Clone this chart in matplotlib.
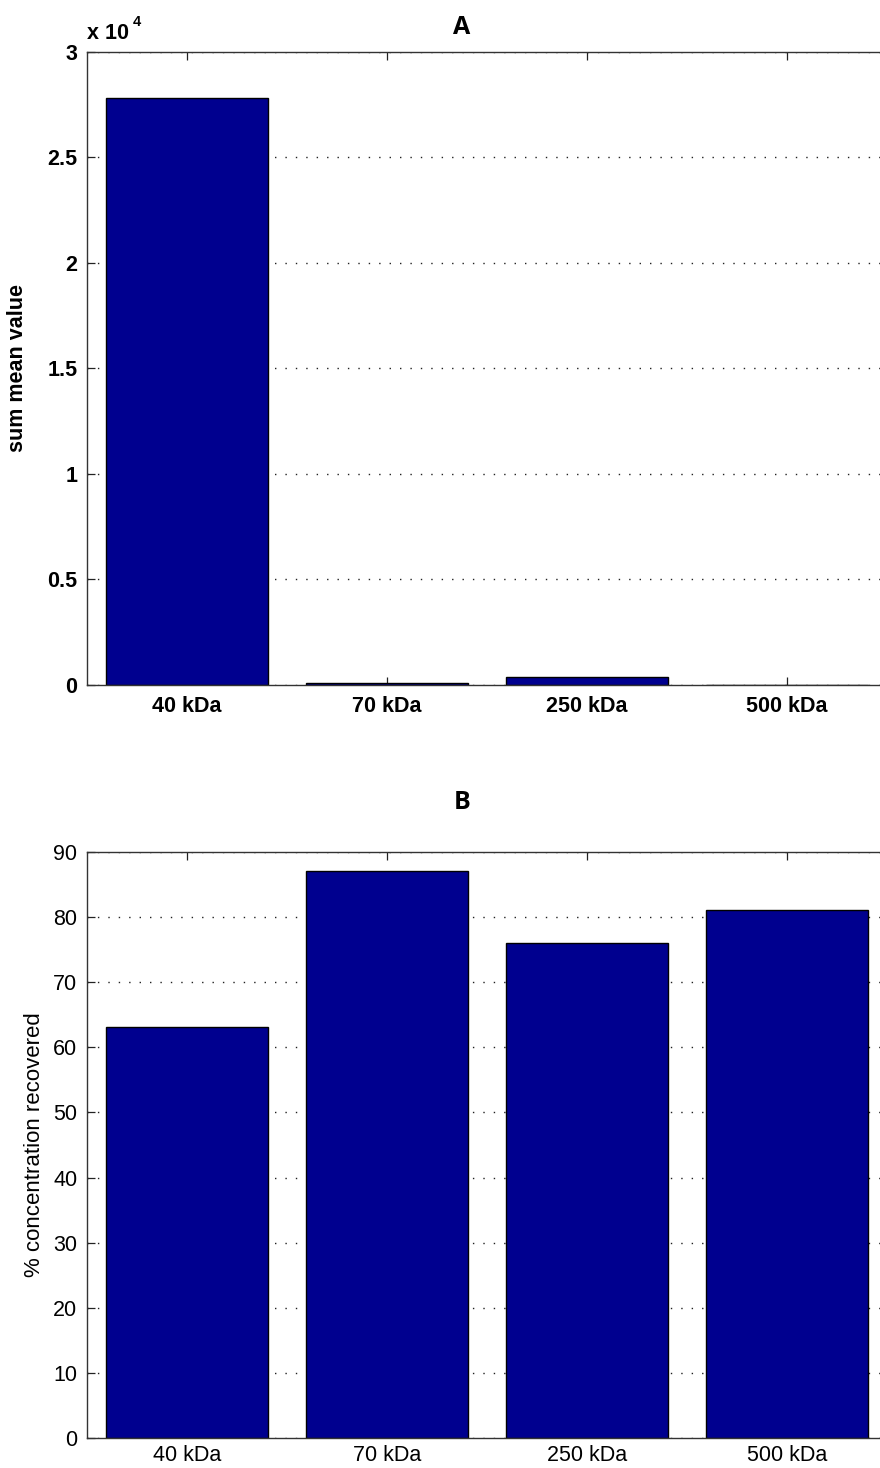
import matplotlib.pyplot as plt
from matplotlib.ticker import FuncFormatter

# data
categories = ['40 kDa', '70 kDa', '250 kDa', '500 kDa']
sum_mean = [27800, 80, 380, 10]
pct_recovered = [63.1, 87.1, 76.0, 81.1]

bar_color = '#00008F'
font = 'Liberation Sans'
title_font = 'Open Sans'

fig = plt.figure(figsize=(8.8, 14.68), dpi=100)

# axes run a little past the right edge like in the cropped original
ax1 = fig.add_axes([0.099, 0.5334, 0.909, 0.4312])
ax2 = fig.add_axes([0.099, 0.0204, 0.909, 0.3992])

x = range(1, len(categories) + 1)


def style_axes(ax, bold):
    weight = 'bold' if bold else 'normal'
    ax.set_xlim(0.5, 4.5)
    ax.set_xticks(list(x))
    ax.set_xticklabels(categories, fontfamily=font, fontsize=15.5, fontweight=weight)
    ax.tick_params(direction='in', length=6, width=0.9, top=True, right=False,
                   colors='#222222', labelcolor='black')
    ax.tick_params(axis='y', pad=7)
    for lab in ax.get_yticklabels():
        lab.set_fontfamily(font)
        lab.set_fontsize(15.5)
        lab.set_fontweight(weight)
    for s in ax.spines.values():
        s.set_linewidth(1.0)
        s.set_color('#333333')
    ax.set_axisbelow(True)
    ax.yaxis.grid(True, color='#222222', linewidth=1.0, linestyle=(0, (1, 6.5)))


# A: sum mean value
ax1.bar(x, sum_mean, width=0.81, color=bar_color, edgecolor='black', linewidth=1.0)
ax1.set_ylim(0, 30000)
ax1.set_yticks(range(0, 30001, 5000))
ax1.yaxis.set_major_formatter(FuncFormatter(lambda v, p: '%g' % (v / 1e4)))
style_axes(ax1, True)
ax1.tick_params(axis='x', pad=8)
ax1.set_ylabel('sum mean value', fontfamily=font, fontsize=15.5, fontweight='bold', labelpad=14)
ax1.text(0.0, 1.012, 'x 10', transform=ax1.transAxes, fontfamily=font, fontsize=15.5,
         fontweight='bold', ha='left', va='bottom')
ax1.text(0.0575, 1.036, '4', transform=ax1.transAxes, fontfamily=font, fontsize=10.5,
         fontweight='bold', ha='left', va='bottom')
fig.text(0.525, 0.981, 'A', fontfamily=title_font, fontsize=18, fontweight='bold',
         ha='center', va='center')

# B: % concentration recovered
ax2.bar(x, pct_recovered, width=0.81, color=bar_color, edgecolor='black', linewidth=1.0)
ax2.set_ylim(0, 90)
ax2.set_yticks(range(0, 91, 10))
style_axes(ax2, False)
ax2.tick_params(axis='x', pad=5)
ax2.set_ylabel('% concentration recovered', fontfamily=font, fontsize=16, labelpad=6)
fig.text(0.525, 0.4535, 'B', fontfamily=title_font, fontsize=18, fontweight='bold',
         ha='center', va='center')

fig.savefig('out.png', dpi=100)
